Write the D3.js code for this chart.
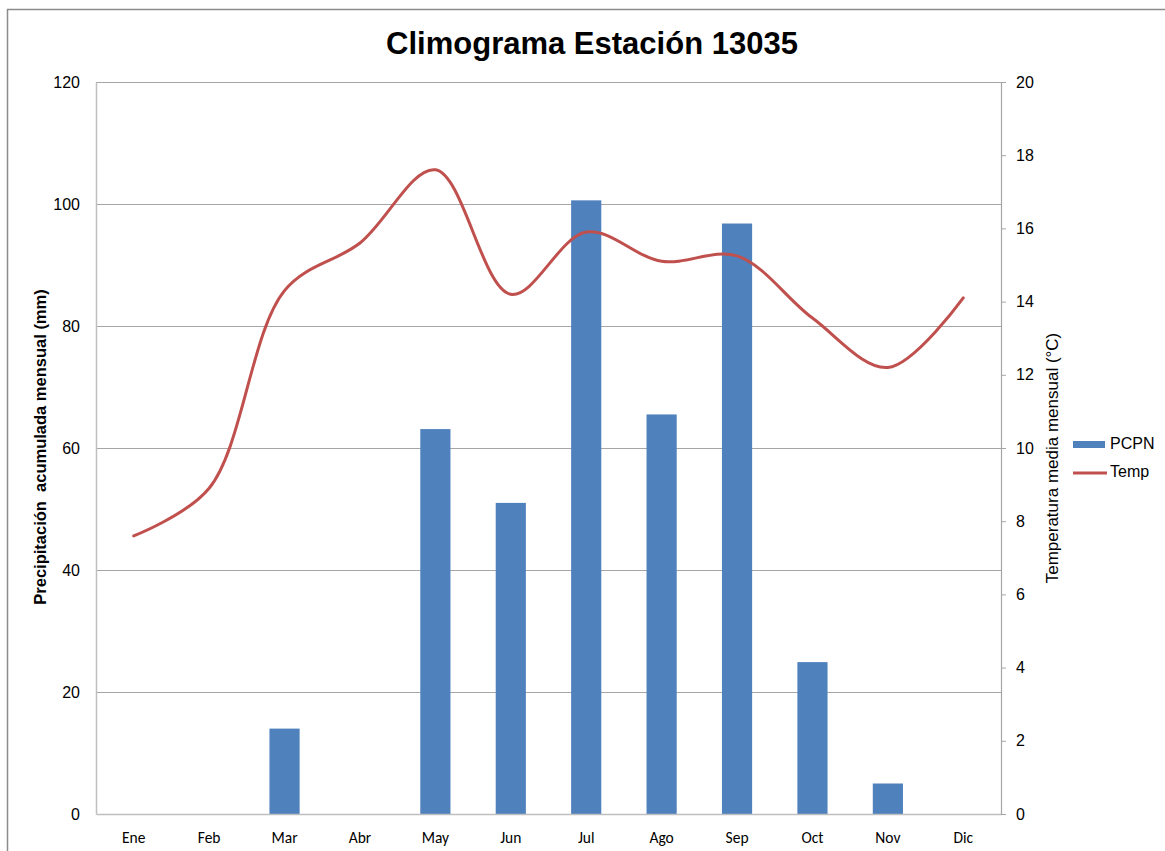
<!DOCTYPE html>
<html>
<head>
<meta charset="utf-8">
<script src="https://cdn.jsdelivr.net/npm/d3@7"></script>
<style>
  body { margin: 0; background: #fff; }
  svg { display: block; }
</style>
</head>
<body>
<div id="chart"></div>
<script>
// data
const months = ["Ene", "Feb", "Mar", "Abr", "May", "Jun", "Jul", "Ago", "Sep", "Oct", "Nov", "Dic"];
const pcpn = [0, 0, 14, 0, 63.1, 51, 100.6, 65.5, 96.8, 24.9, 5, 0];
const temp = [7.6, 8.9, 14.3, 15.6, 17.6, 14.2, 15.9, 15.1, 15.25, 13.55, 12.2, 14.1];
const leftTicks = [0, 20, 40, 60, 80, 100, 120];
const rightTicks = [0, 2, 4, 6, 8, 10, 12, 14, 16, 18, 20];

const W = 1165, H = 851;
const margin = { top: 82, right: 164, bottom: 37, left: 96 };
const width = W - margin.left - margin.right,
  height = H - margin.top - margin.bottom;

const root = d3.select("#chart").append("svg")
  .attr("width", W)
  .attr("height", H);

// chart frame
root.append("rect")
  .attr("x", 7.5).attr("y", 9.5)
  .attr("width", 1200).attr("height", 900)
  .attr("fill", "none")
  .attr("stroke", "#8c8c8c")
  .attr("stroke-width", 1.5);

root.append("text")
  .attr("x", 592).attr("y", 54)
  .attr("text-anchor", "middle")
  .attr("font-family", "Liberation Sans, Arial, sans-serif")
  .attr("font-weight", "bold")
  .attr("font-size", 31)
  .text("Climograma Estación 13035");

const svg = root.append("g")
  .attr("transform", `translate(${margin.left},${margin.top})`);

// scales
const x = d3.scaleBand().domain(months).range([0, width]).padding(0);
const yL = d3.scaleLinear().domain([0, 120]).range([height, 0]);
const yR = d3.scaleLinear().domain([0, 20]).range([height, 0]);

// gridlines
svg.append("g")
  .selectAll("line")
  .data(leftTicks.filter(d => d > 0))
  .join("line")
  .attr("x1", 0).attr("x2", width)
  .attr("y1", d => yL(d) + 0.5).attr("y2", d => yL(d) + 0.5)
  .attr("stroke", "#a6a6a6")
  .attr("stroke-width", 1);

// bars
const barW = x.bandwidth() * 0.4;
svg.append("g")
  .selectAll("rect")
  .data(months.map((m, i) => ({ m, v: pcpn[i] })).filter(d => d.v > 0))
  .join("rect")
  .attr("x", d => x(d.m) + (x.bandwidth() - barW) / 2)
  .attr("y", d => yL(d.v))
  .attr("width", barW)
  .attr("height", d => height - yL(d.v))
  .attr("fill", "#4f81bd");

// left axis
const axL = svg.append("g")
  .call(d3.axisLeft(yL).tickValues(leftTicks).tickSize(0).tickPadding(16));
axL.select(".domain").attr("stroke", "#bfbfbf").attr("stroke-width", 1.5);
axL.selectAll("text")
  .attr("font-family", "Liberation Sans, Arial, sans-serif")
  .attr("font-size", 16)
  .attr("fill", "#000");

// bottom axis
const axB = svg.append("g")
  .attr("transform", `translate(0,${height})`)
  .call(d3.axisBottom(x).tickSize(0).tickPadding(18));
axB.select(".domain").attr("stroke", "#bfbfbf").attr("stroke-width", 1.5);
axB.selectAll("text")
  .attr("font-family", "Carlito, Lato, sans-serif")
  .attr("font-size", 15.5)
  .attr("fill", "#000");

// right axis
const axR = svg.append("g")
  .attr("transform", `translate(${width},0)`)
  .call(d3.axisRight(yR).tickValues(rightTicks).tickSize(5).tickPadding(10));
axR.select(".domain").attr("stroke", "#a6a6a6").attr("stroke-width", 1.2);
axR.selectAll(".tick line").attr("stroke", "#a6a6a6");
axR.selectAll("text")
  .attr("font-family", "Liberation Sans, Arial, sans-serif")
  .attr("font-size", 16)
  .attr("fill", "#000");

// temperature line
const line = d3.line()
  .x((d, i) => x(months[i]) + x.bandwidth() / 2)
  .y(d => yR(d))
  .curve(d3.curveCatmullRom.alpha(0.5));
svg.append("path")
  .datum(temp)
  .attr("d", line)
  .attr("fill", "none")
  .attr("stroke", "#c0504d")
  .attr("stroke-width", 3)
  .attr("stroke-linecap", "round");

// axis titles
root.append("text")
  .attr("transform", "translate(46,447) rotate(-90)")
  .attr("text-anchor", "middle")
  .attr("font-family", "Liberation Sans, Arial, sans-serif")
  .attr("font-weight", "bold")
  .attr("font-size", 16.5)
  .attr("xml:space", "preserve")
  .text("Precipitación  acumulada mensual (mm)");

root.append("text")
  .attr("transform", "translate(1058,458) rotate(-90)")
  .attr("text-anchor", "middle")
  .attr("font-family", "Liberation Sans, Arial, sans-serif")
  .attr("font-size", 17)
  .text("Temperatura media mensual (°C)");

// legend
const legend = root.append("g").attr("transform", "translate(1073,441)");
legend.append("rect")
  .attr("x", 0).attr("y", 0).attr("width", 32).attr("height", 7)
  .attr("fill", "#4f81bd");
legend.append("text")
  .attr("x", 37).attr("y", 8)
  .attr("font-family", "Liberation Sans, Arial, sans-serif")
  .attr("font-size", 16)
  .text("PCPN");
legend.append("line")
  .attr("x1", 0).attr("x2", 34).attr("y1", 32).attr("y2", 32)
  .attr("stroke", "#c0504d").attr("stroke-width", 3);
legend.append("text")
  .attr("x", 37).attr("y", 36)
  .attr("font-family", "Liberation Sans, Arial, sans-serif")
  .attr("font-size", 16)
  .text("Temp");
</script>
</body>
</html>
